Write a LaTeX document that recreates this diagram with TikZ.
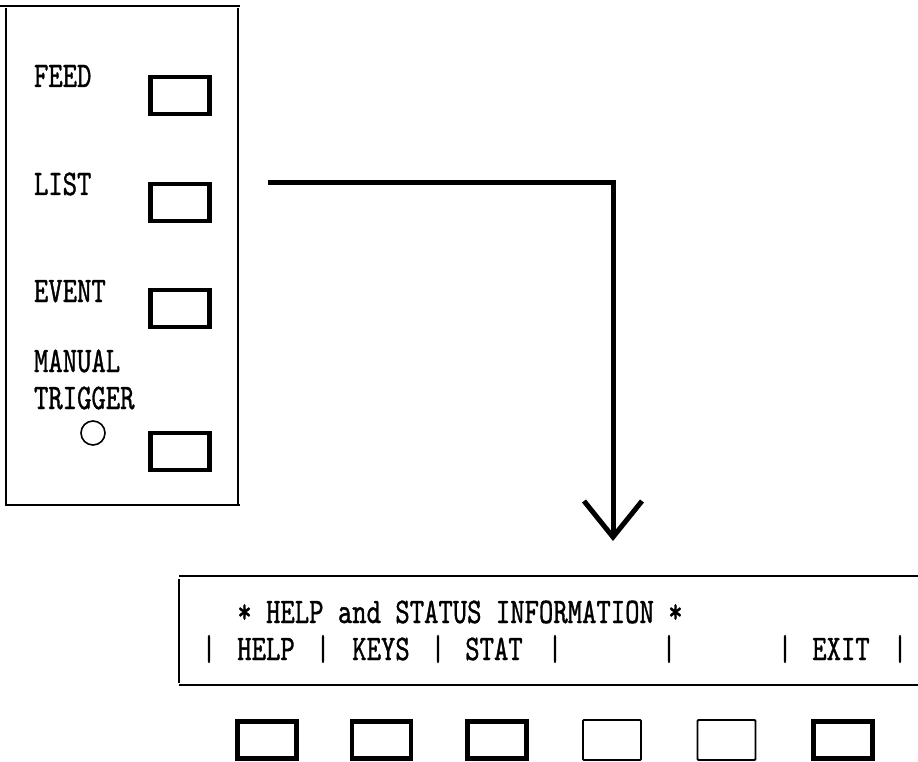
\documentclass[tikz,border=0pt]{standalone}
\usepackage{graphicx}
\usepackage{fontspec}
\newfontfamily\reftt[FakeBold=1.2]{lmmono10-regular.otf}
\usetikzlibrary{arrows.meta}
\newcommand{\ctt}[1]{\scalebox{0.76}[1]{\fontsize{36}{40}\selectfont\reftt #1}}
\tikzset{
  lbl/.style={inner sep=0pt, outer sep=0pt, anchor=base west},
  lblc/.style={inner sep=0pt, outer sep=0pt, anchor=base},
  keybold/.style={rectangle, draw, line width=4.2pt, minimum width=59pt, minimum height=37pt, inner sep=0pt},
  keythin/.style={rectangle, draw, line width=1.8pt, minimum width=58pt, minimum height=40pt, inner sep=0pt, rounded corners=1pt},
  frame/.style={line width=2pt},
  conn/.style={line width=5pt, -{Straight Barb[length=36pt, width=58pt]}}
}
\begin{document}
\begin{tikzpicture}[x=1pt, y=-1pt]
\useasboundingbox (0,0) rectangle (918,762);

% left panel
\draw[frame] (0,6) -- (240,6);
\draw[frame] (6,8) -- (6,505);
\draw[frame] (238,8) -- (238,505);
\draw[frame] (5,505) -- (240,505);

\node[lbl] (tfeed) at (34,87) {\ctt{FEED}};
\node[lbl] (tlist) at (34,195) {\ctt{LIST}};
\node[lbl] (tevent) at (34,302) {\ctt{EVENT}};
\node[lbl] (tmanual) at (34,372) {\ctt{MANUAL}};
\node[lbl] (ttrigger) at (34,409) {\ctt{TRIGGER}};
\node[circle, draw, line width=1.6pt, minimum size=24pt, inner sep=0pt] (led) at (93,433) {};

\node[keybold] (kfeed) at (180,95.5) {};
\node[keybold] (klist) at (180,202.5) {};
\node[keybold] (kevent) at (180,308.5) {};
\node[keybold] (ktrig) at (180,451.5) {};

% connector
\coordinate (cstart) at (268,183);
\coordinate (ctip) at (613,541);
\draw[conn] (cstart) -| (ctip);

% bottom panel
\draw[frame] (179,576) -- (918,576);
\draw[frame] (179,685) -- (918,685);
\draw[frame] (179,579) -- (179,683);

\node[lblc] (title) at (460,623) {\ctt{* HELP and STATUS INFORMATION *}};

\node[lblc] (b1) at (209,660) {\ctt{|}};
\node[lblc] (w1) at (266,660) {\ctt{HELP}};
\node[lblc] (b2) at (323,660) {\ctt{|}};
\node[lblc] (w2) at (381,660) {\ctt{KEYS}};
\node[lblc] (b3) at (438,660) {\ctt{|}};
\node[lblc] (w3) at (494,660) {\ctt{STAT}};
\node[lblc] (b4) at (555,660) {\ctt{|}};
\node[lblc] (b5) at (669,660) {\ctt{|}};
\node[lblc] (b6) at (785,660) {\ctt{|}};
\node[lblc] (w6) at (841,660) {\ctt{EXIT}};
\node[lblc] (b7) at (900,660) {\ctt{|}};

% soft keys
\node[keybold] (f1) at (267,740) {};
\node[keybold] (f2) at (381.5,740) {};
\node[keybold] (f3) at (497,740) {};
\node[keythin] (f4) at (612,740) {};
\node[keythin] (f5) at (726.5,740) {};
\node[keybold] (f6) at (843,740) {};
\end{tikzpicture}
\end{document}
